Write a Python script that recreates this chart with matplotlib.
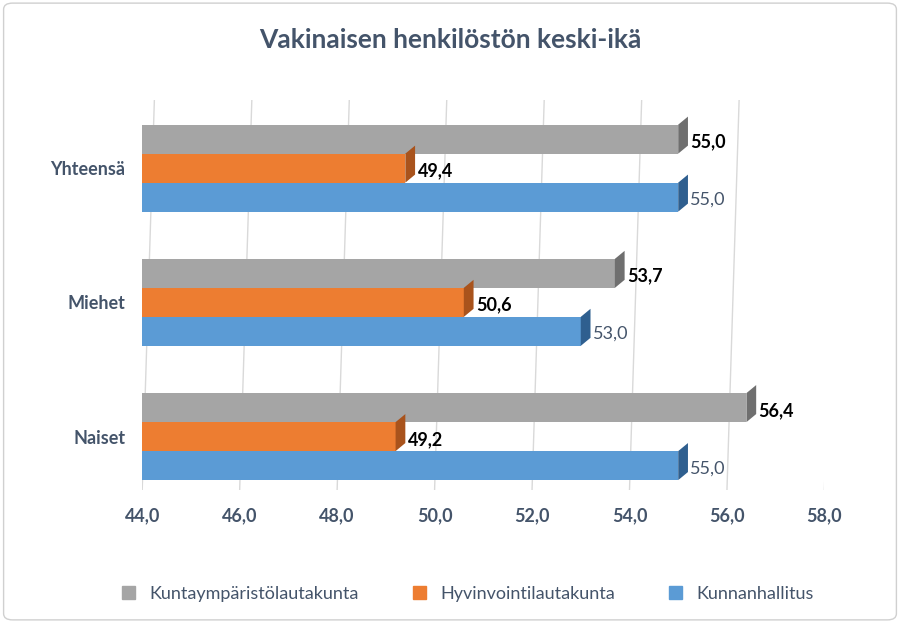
import matplotlib

matplotlib.use("Agg")
import matplotlib.pyplot as plt
from matplotlib.patches import Polygon, FancyBboxPatch

plt.rcParams["font.family"] = "Lato"

CATEGORIES = ["Naiset", "Miehet", "Yhteensä"]
SERIES = ["Kuntaympäristölautakunta", "Hyvinvointilautakunta", "Kunnanhallitus"]
VALUES = {
    "Kuntaympäristölautakunta": [56.4, 53.7, 55.0],
    "Hyvinvointilautakunta": [49.2, 50.6, 49.4],
    "Kunnanhallitus": [55.0, 53.0, 55.0],
}
COLORS = {"Kuntaympäristölautakunta": "#A5A5A5", "Hyvinvointilautakunta": "#ED7D31", "Kunnanhallitus": "#5B9BD5"}
SIDES = {"Kuntaympäristölautakunta": "#6F6F6F", "Hyvinvointilautakunta": "#A9531C", "Kunnanhallitus": "#2F5F8F"}
LABEL_STYLE = {
    "Kuntaympäristölautakunta": ("black", "bold"),
    "Hyvinvointilautakunta": ("black", "bold"),
    "Kunnanhallitus": ("#44546A", "normal"),
}
TICKS = [44, 46, 48, 50, 52, 54, 56, 58]
TEXT = "#44546A"

fig = plt.figure(figsize=(9, 6.23), dpi=100)
frame = FancyBboxPatch((0.004, 0.005), 0.992, 0.99, boxstyle="round,pad=0,rounding_size=0.01",
                       transform=fig.transFigure, fc="none", ec="#D0D0D0", lw=1, zorder=-10)
fig.patches.append(frame)
ax = fig.add_axes([0.158, 0.213, 0.758, 0.627])
ax.patch.set_alpha(0)
ax.set_xlim(44, 58)
ax.set_ylim(0, 2.91)

h = 0.216
offsets = {"Kuntaympäristölautakunta": h, "Hyvinvointilautakunta": 0.0, "Kunnanhallitus": -h}
centers = [0.4, 1.4, 2.4]
dx, dy = 0.2, 0.06

for s in SERIES:
    ys = [c + offsets[s] for c in centers]
    ax.barh(ys, [v - 44 for v in VALUES[s]], left=44, height=h, color=COLORS[s], zorder=3)
    for y, v in zip(ys, VALUES[s]):
        ax.add_patch(Polygon([(v, y - h / 2), (v + dx, y - h / 2 + dy), (v + dx, y + h / 2 + dy), (v, y + h / 2)],
                             closed=True, fc=SIDES[s], ec="none", zorder=3))
        col, wt = LABEL_STYLE[s]
        ax.text(v + dx + 0.05, y - 0.02, f"{v:.1f}".replace(".", ","), va="center", ha="left",
                fontsize=13, color=col, fontweight=wt, zorder=4)

for t in TICKS:
    ax.plot([t, t + 0.25], [0, 2.91], color="#D9D9D9", lw=1, zorder=1)

ax.set_xticks(TICKS)
ax.set_xticklabels([f"{t:.1f}".replace(".", ",") for t in TICKS], fontsize=13, color=TEXT, fontweight="bold")
ax.set_yticks(centers)
ax.set_yticklabels(CATEGORIES, fontsize=13, color=TEXT, fontweight="bold")
ax.tick_params(length=0, pad=12)
for sp in ax.spines.values():
    sp.set_visible(False)

fig.text(0.5, 0.935, "Vakinaisen henkilöstön keski-ikä", ha="center", va="center",
         fontsize=19, color=TEXT, fontweight="bold")

handles = [plt.Rectangle((0, 0), 1, 1, color=COLORS[s]) for s in SERIES]
fig.legend(handles, SERIES, loc="center", bbox_to_anchor=(0.52, 0.047), ncol=3, frameon=False,
           fontsize=13, handlelength=0.7, handleheight=0.7, columnspacing=3.0, labelcolor=TEXT)

fig.savefig("out.png", dpi=100)
